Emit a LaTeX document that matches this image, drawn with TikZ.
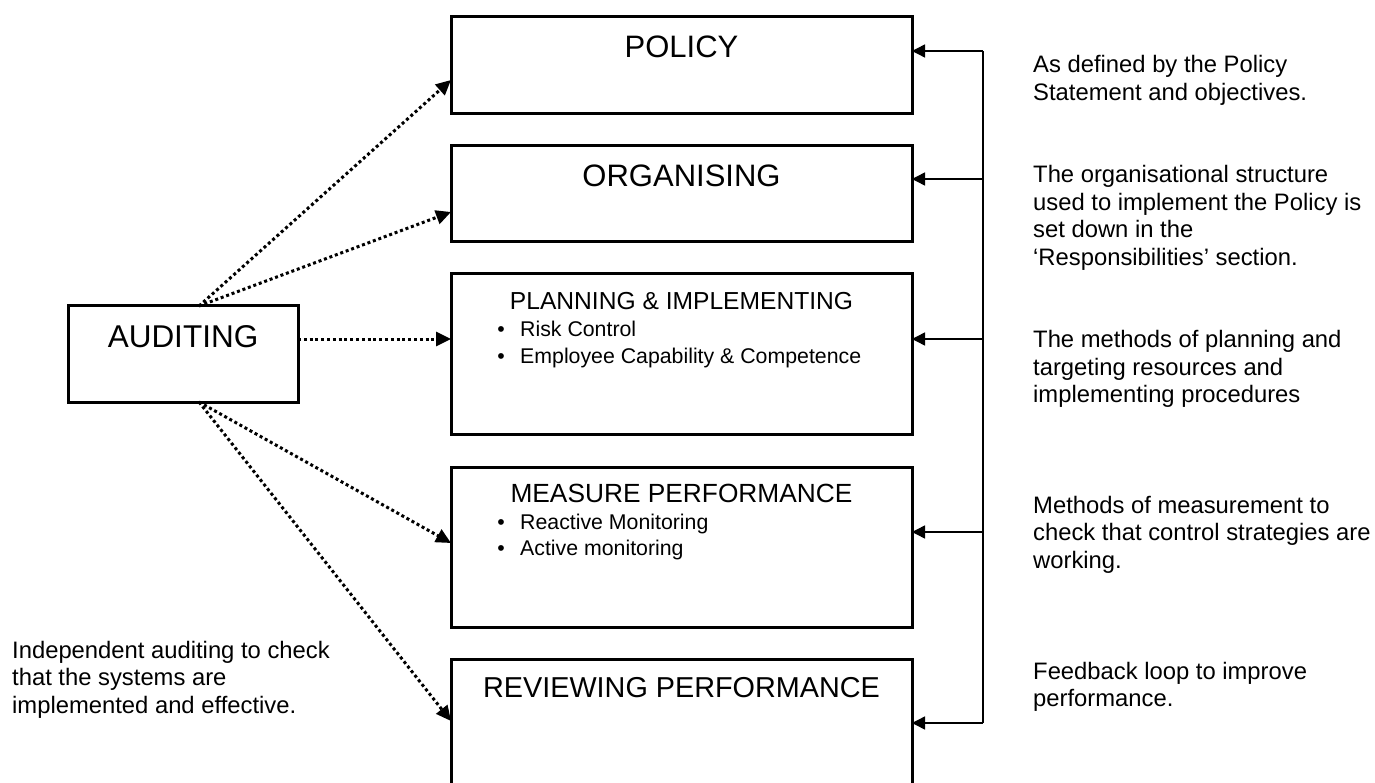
\documentclass[tikz,border=0pt]{standalone}
\usepackage{fontspec}
\setmainfont{Liberation Sans}
\usetikzlibrary{arrows.meta,calc}
\begin{document}
\begin{tikzpicture}[x=1pt,y=-1pt,
  box/.style={draw, line width=3pt, inner sep=0pt, outer sep=0pt, anchor=north west},
  title/.style={anchor=base, inner sep=0pt},
  bul/.style={anchor=base, inner sep=0pt, font=\fontsize{21.3}{26}\selectfont},
  bultext/.style={anchor=base west, inner sep=0pt, font=\fontsize{21.3}{26}\selectfont},
  side/.style={anchor=base west, inner sep=0pt, font=\fontsize{23.8}{27.5}\selectfont},
  fbline/.style={line width=1.5pt},
  fb/.style={line width=1.5pt, -{Triangle[length=13pt,width=13pt]}},
  aud/.style={line width=3pt, dash pattern=on 3pt off 2.8pt, -{Triangle[length=15pt,width=14pt]}}
]
\useasboundingbox (0,0) rectangle (1375,783);
\clip (0,0) rectangle (1375,783);

% boxes
\node[box, minimum width=461pt, minimum height=97pt] (policy) at (451,17) {};
\node[box, minimum width=461pt, minimum height=96pt] (org) at (451,146) {};
\node[box, minimum width=461pt, minimum height=160pt] (plan) at (451,274) {};
\node[box, minimum width=461pt, minimum height=160pt] (meas) at (451,467) {};
\node[box, minimum width=461pt, minimum height=170pt] (rev) at (451,659) {};
\node[box, minimum width=230pt, minimum height=96pt] (audit) at (68,306) {};

% titles
\node[title, font=\fontsize{31}{36}\selectfont] (tpol) at (681.5,58) {POLICY};
\node[title, font=\fontsize{31}{36}\selectfont] (torg) at (681.5,187) {ORGANISING};
\node[title, font=\fontsize{24.6}{30}\selectfont] (tplan) at (681.5,310) {PLANNING \& IMPLEMENTING};
\node[title, font=\fontsize{26.3}{30}\selectfont] (tmeas) at (681.5,502) {MEASURE PERFORMANCE};
\node[title, font=\fontsize{28.8}{34}\selectfont] (trev) at (681.5,697) {REVIEWING PERFORMANCE};
\node[title, font=\fontsize{31.5}{36}\selectfont] (taud) at (183,347) {AUDITING};

% bullets
\node[bul] (b1) at (501,337) {•};
\node[bultext] (b1t) at (520,337) {Risk Control};
\node[bul] (b2) at (501,363) {•};
\node[bultext] (b2t) at (520,363) {Employee Capability \& Competence};
\node[bul] (b3) at (501,529) {•};
\node[bultext] (b3t) at (520,529) {Reactive Monitoring};
\node[bul] (b4) at (501,555) {•};
\node[bultext] (b4t) at (520,555) {Active monitoring};

% side texts
\node[side] (s1) at (1033,73) {\begin{tabular}[t]{@{}l@{}}As defined by the Policy\\Statement and objectives.\end{tabular}};
\node[side] (s2) at (1033,183) {\begin{tabular}[t]{@{}l@{}}The organisational structure\\used to implement the Policy is\\set down in the\\‘Responsibilities’ section.\end{tabular}};
\node[side] (s3) at (1033,348) {\begin{tabular}[t]{@{}l@{}}The methods of planning and\\targeting resources and\\implementing procedures\end{tabular}};
\node[side] (s4) at (1033,513) {\begin{tabular}[t]{@{}l@{}}Methods of measurement to\\check that control strategies are\\working.\end{tabular}};
\node[side] (s5) at (1033,679) {\begin{tabular}[t]{@{}l@{}}Feedback loop to improve\\performance.\end{tabular}};
\node[side] (s6) at (12,658) {\begin{tabular}[t]{@{}l@{}}Independent auditing to check\\that the systems are\\implemented and effective.\end{tabular}};

% feedback loop
\coordinate (f1) at (983,51);
\coordinate (f2) at (983,179);
\coordinate (f3) at (983,339);
\coordinate (f4) at (983,532);
\coordinate (f5) at (983,723);
\draw[fbline] (f1) -- (f5);
\draw[fb] (f1) -- (f1 -| policy.east);
\draw[fb] (f2) -- (f2 -| org.east);
\draw[fb] (f3) -- (f3 -| plan.east);
\draw[fb] (f4) -- (f4 -| meas.east);
\draw[fb] (f5) -- (f5 -| rev.east);

% auditing arrows
\coordinate (atop) at ($(audit.north west)+(131,0)$);
\coordinate (abot) at ($(audit.south west)+(131,0)$);
\draw[aud] (atop) -- ([yshift=34pt]policy.south west);
\draw[aud] (atop) -- ([yshift=30pt]org.south west);
\draw[aud] ([yshift=15pt]audit.east) -- ([yshift=15pt]audit.east -| plan.west);
\draw[aud] (abot) -- ([yshift=-76pt]meas.north west);
\draw[aud] (abot) -- ([yshift=-62pt]rev.north west);
\end{tikzpicture}
\end{document}
